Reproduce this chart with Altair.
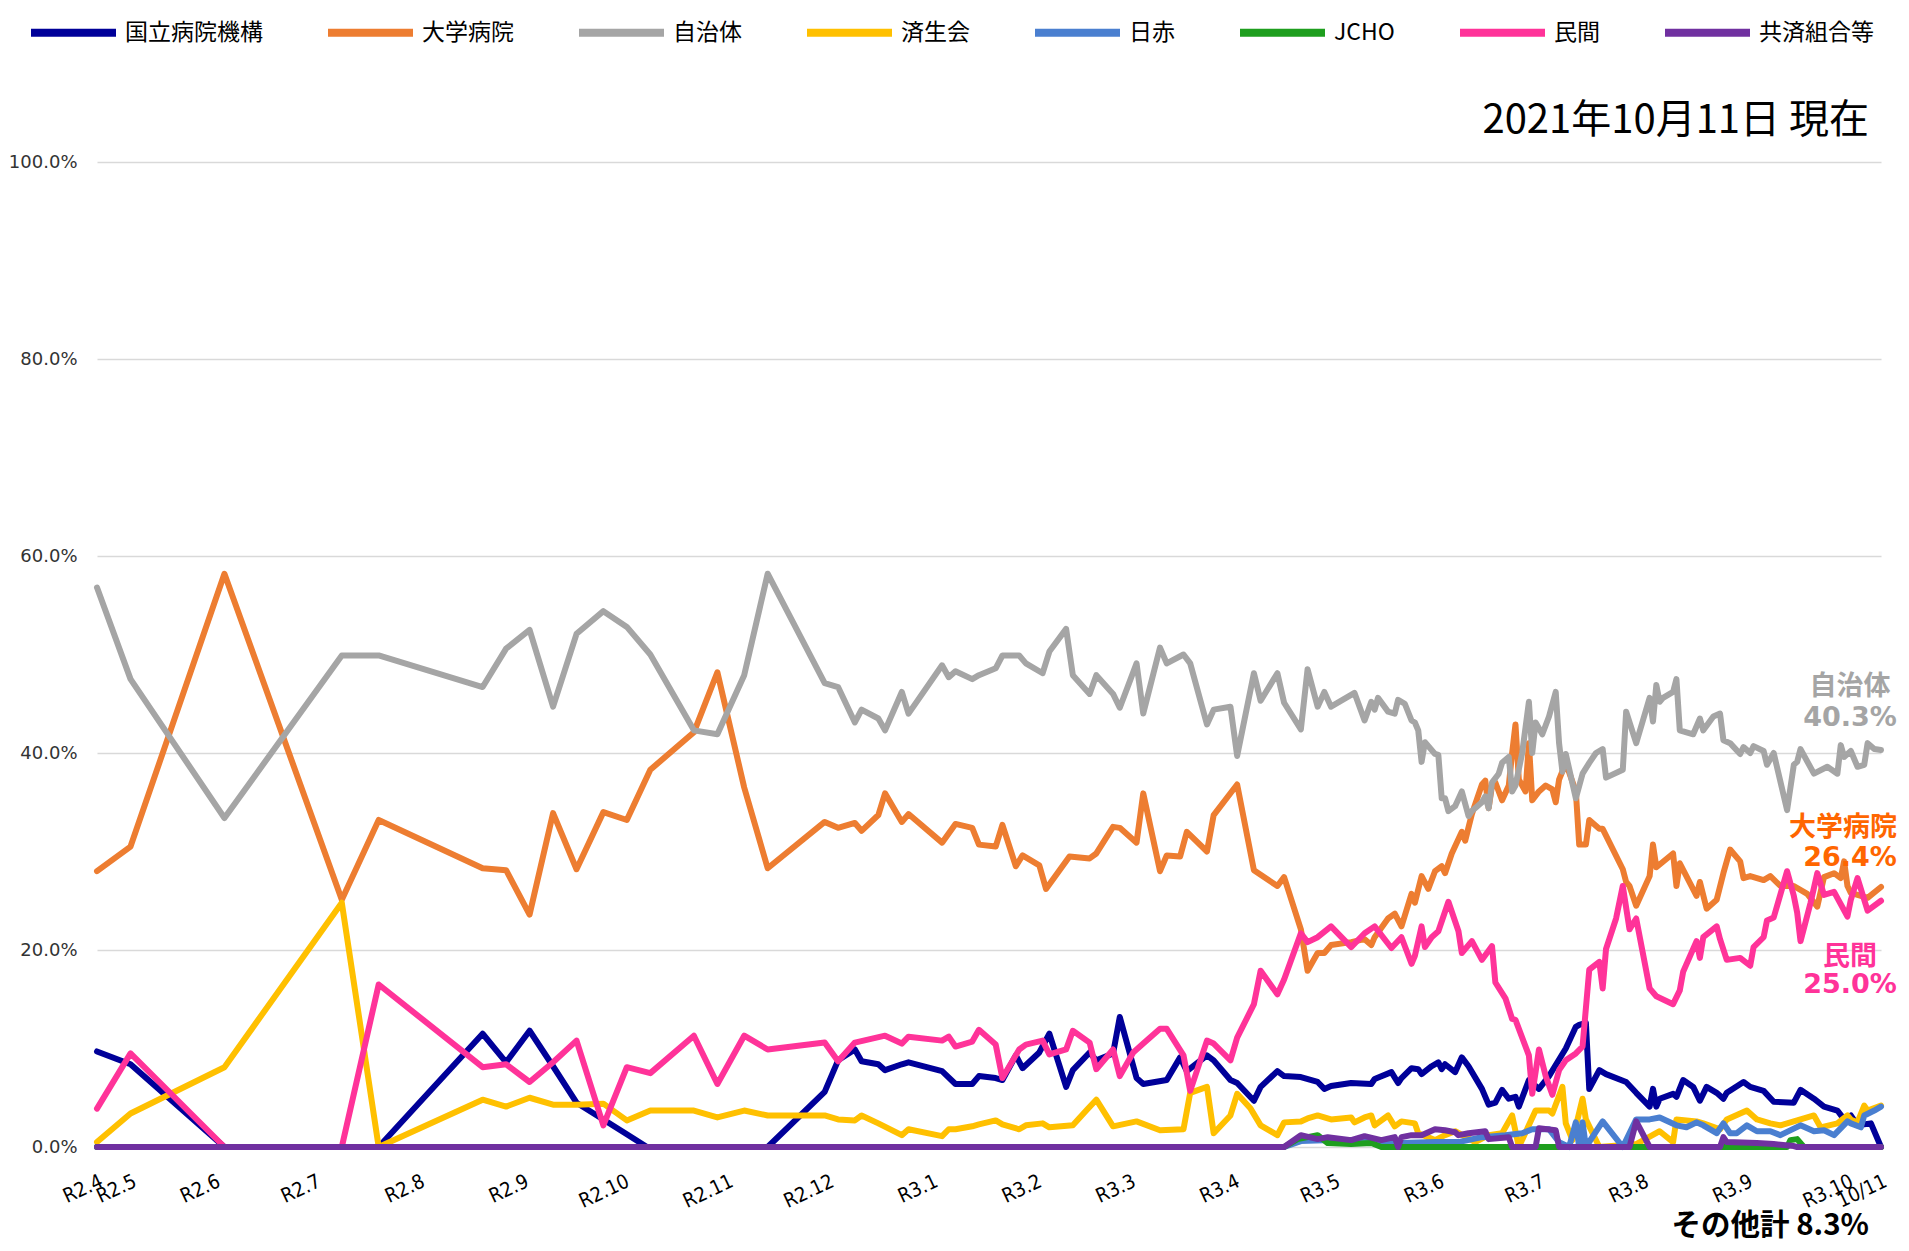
import altair as alt
import pandas as pd

# ---------------- data ----------------
series_names = ["国立病院機構", "大学病院", "自治体", "済生会", "日赤", "JCHO", "民間", "共済組合等"]
series_colors = ["#000099", "#ED7D31", "#A5A5A5", "#FFC000", "#4A7FD0", "#1E9E1E", "#FF3399", "#7030A0"]

# x values are days since 2020-04-27 (first data point), values are shares in %
kokuritsu_days = [0,10,38,84,115,122,129,136,143,151,158,164,200,217,221,226,228,233,235,240,242,252,256,261,263,268,270,274,276,281,284,289,291,296,298,303,305,310,312,319,323,325,331,333,338,340,345,347,352,354,359,364,366,368,374,380,381,386,388,389,392,394,395,398,400,401,402,405,407,409,413,415,417,419,421,423,424,427,430,433,438,441,442,444,445,448,450,456,459,463,464,465,466,470,471,473,476,478,480,483,485,486,491,493,497,500,506,508,512,515,519,521,523,525,529,532]
kokuritsu_pct = [9.7,8.4,0,0,11.5,8.6,11.8,8.2,4.5,2.8,1.3,0,0,5.6,8.8,9.9,8.7,8.4,7.8,8.4,8.6,7.7,6.4,6.4,7.2,7.0,6.8,9.3,8.0,9.6,11.5,6.1,7.8,9.6,8.8,9.5,13.2,7.0,6.4,6.8,9.1,7.7,9.3,8.8,6.8,6.5,4.7,6.1,7.7,7.2,7.1,6.6,5.9,6.2,6.5,6.4,6.9,7.6,6.5,7.0,8.0,7.9,7.4,8.2,8.6,7.9,8.4,7.6,9.1,8.2,5.9,4.3,4.5,5.8,4.9,5.1,4.1,6.8,5.9,7.2,10.0,12.2,12.4,12.6,5.9,7.8,7.4,6.6,5.5,4.1,5.9,4.1,4.9,5.4,5.1,6.8,6.1,4.7,6.1,5.5,4.9,5.5,6.6,6.1,5.7,4.6,4.5,5.8,4.9,4.1,3.7,2.8,3.2,2.2,2.4,0]

daigaku_days = [0,10,38,73,84,115,122,129,136,143,151,158,165,178,185,193,200,217,221,226,228,233,235,240,242,252,256,261,263,268,270,274,276,281,283,290,296,298,303,305,310,312,317,319,323,325,331,333,340,345,352,354,359,361,364,366,368,374,378,380,381,385,387,389,392,393,395,397,399,401,402,404,407,408,410,413,414,415,416,417,419,421,422,423,424,426,427,428,430,432,434,435,436,438,441,442,444,445,448,449,455,456,457,459,463,464,465,470,471,472,477,478,480,483,485,487,490,491,493,497,499,502,506,510,513,515,518,520,521,522,523,528,532]
daigaku_pct = [28.0,30.5,58.2,25.1,33.2,28.3,28.1,23.6,33.9,28.2,34.0,33.2,38.3,42.1,48.2,36.5,28.3,33.0,32.4,32.9,32.1,33.7,35.9,33.0,33.8,30.9,32.8,32.4,30.7,30.5,32.7,28.5,29.6,28.6,26.2,29.5,29.3,29.8,32.5,32.4,30.9,35.9,28.0,29.6,29.5,32.0,30.0,33.7,36.8,28.1,26.5,27.4,22.1,17.9,19.7,19.7,20.5,20.8,21.1,20.5,21.3,23.2,23.7,22.4,25.7,24.8,27.5,26.2,28.0,28.5,27.8,29.8,32.0,31.1,33.8,36.8,37.2,34.4,36.7,37.0,35.2,36.7,40.0,42.9,37.3,36.1,41.0,35.2,36.1,36.7,36.3,35.0,37.3,39.0,36.1,30.7,30.7,33.2,32.3,32.3,28.2,26.9,26.5,24.5,27.5,30.7,28.4,29.8,26.5,28.8,25.5,26.9,24.2,25.1,27.8,30.2,29.0,27.3,27.5,27.1,27.5,26.5,26.5,25.7,24.4,27.4,27.8,27.3,29.0,26.5,25.8,25.3,26.4]

jichitai_days = [0,10,38,73,84,115,122,129,136,143,151,158,165,178,185,193,200,217,221,226,228,233,235,240,242,252,254,256,261,263,268,270,275,277,282,284,289,291,296,298,303,305,310,312,317,319,324,326,331,333,338,340,345,347,352,354,359,361,364,366,368,375,378,380,381,382,385,387,388,390,392,393,394,395,396,399,400,401,402,403,405,407,409,410,413,414,415,416,418,419,421,422,423,425,427,428,429,431,433,435,436,437,438,441,443,445,447,449,450,455,456,459,461,463,464,465,466,467,470,471,472,476,478,479,482,484,485,487,490,491,493,494,497,498,500,504,506,507,508,512,516,519,520,521,523,525,527,528,530,532]
jichitai_pct = [56.8,47.5,33.4,49.9,49.9,46.7,50.6,52.5,44.7,52.1,54.4,52.8,50.0,42.3,41.9,47.9,58.2,47.1,46.7,43.1,44.4,43.5,42.3,46.2,44.0,48.9,47.7,48.3,47.5,47.9,48.6,49.9,49.9,49.1,48.1,50.3,52.6,47.9,46.0,47.9,46.0,44.6,49.1,44.0,50.7,49.1,50.0,49.1,42.9,44.4,44.7,39.7,48.1,45.3,48.1,45.1,42.4,48.5,44.7,46.2,44.7,46.1,43.3,45.2,44.4,45.6,44.2,44.0,45.4,45.0,43.3,43.1,42.3,39.1,41.1,39.9,39.8,35.4,35.4,34.1,34.6,36.1,33.6,34.1,35.0,35.6,34.4,37.0,37.9,39.0,39.6,36.1,36.7,40.0,45.2,40.0,43.1,41.9,43.7,46.2,41.0,38.1,39.9,35.4,37.9,39.0,40.0,40.4,37.5,38.3,44.2,41.0,43.3,45.6,43.2,46.9,45.2,45.6,46.2,47.5,42.3,41.9,43.5,42.3,43.7,44.0,41.3,41.0,39.9,40.6,40.0,40.7,40.2,38.8,40.0,34.2,38.8,39.1,40.4,37.9,38.6,37.9,40.8,39.6,40.2,38.6,38.8,41.0,40.4,40.3]

saiseikai_days = [0,10,38,73,84,115,122,129,136,143,151,158,165,178,185,193,200,217,221,226,228,233,240,242,252,254,256,261,263,268,270,275,277,282,284,291,295,298,303,310,317,324,326,331,333,338,340,344,347,352,354,359,361,364,368,374,375,378,380,381,385,387,389,393,394,399,402,405,411,415,419,422,424,429,433,434,437,438,440,443,444,448,459,466,470,471,477,479,484,486,492,495,499,502,506,512,514,519,522,523,525,527,528,532]
saiseikai_pct = [0.5,3.4,8.1,24.8,0,4.8,4.1,5.0,4.3,4.3,4.4,2.7,3.7,3.7,3.0,3.7,3.2,3.2,2.8,2.7,3.2,2.4,1.2,1.8,1.1,1.8,1.8,2.1,2.3,2.7,2.3,1.8,2.2,2.4,2.0,2.2,3.7,4.8,2.1,2.6,1.7,1.8,5.5,6.1,1.4,3.2,5.4,3.9,2.2,1.2,2.5,2.6,2.9,3.2,2.8,3.0,2.5,3.0,3.2,2.2,3.2,2.1,2.6,2.4,1.4,0.7,1.2,1.6,0.5,1.2,1.4,3.2,0,3.7,3.7,3.4,6.1,2.4,0.7,4.9,2.8,0,0.3,1.6,0.5,2.8,2.6,2.4,1.8,2.8,3.7,2.8,2.4,2.2,2.6,3.2,2.0,2.4,3.2,2.8,2.5,4.2,3.7,4.2]

nisseki_days = [0,354,359,368,375,383,389,399,406,413,420,425,428,433,436,439,441,442,443,444,449,455,459,463,466,471,474,477,479,483,485,487,489,492,495,499,502,508,512,515,518,522,523,526,527,530,532]
nisseki_pct = [0,0,0.6,0.7,0.7,0.3,0.4,0.5,0.5,1.0,1.2,1.4,1.8,1.8,0.5,0,2.5,0,2.5,0,2.6,0,2.8,2.8,3.0,2.2,2.0,2.5,2.2,1.4,2.4,1.4,1.4,2.2,1.6,1.6,1.2,2.2,1.6,1.7,1.2,2.6,2.4,2.0,3.2,3.7,4.1]

jcho_days = [0,354,358,364,367,374,380,383,504,505,507,509,532]
jcho_pct = [0,0,0.8,1.2,0.4,0.3,0.4,0,0,0.7,0.8,0,0]

minkan_days = [0,10,38,73,84,115,122,129,136,143,151,158,165,178,185,193,200,217,221,226,235,240,242,252,254,256,261,263,268,270,275,277,282,284,289,291,296,298,303,305,309,312,317,319,324,326,331,333,338,340,345,347,352,354,359,361,364,368,374,378,381,386,389,392,393,395,396,398,400,403,406,407,410,413,416,417,420,422,423,427,428,429,430,432,434,436,438,441,443,445,448,449,450,453,455,457,459,463,465,470,472,473,477,478,479,483,484,486,490,493,494,497,498,500,504,506,507,508,511,513,515,518,522,523,525,528,532]
minkan_pct = [3.9,9.5,0,0,16.5,8.1,8.4,6.6,8.6,10.8,2.2,8.1,7.5,11.3,6.4,11.3,9.9,10.6,8.7,10.6,11.3,10.5,11.2,10.8,11.2,10.2,10.7,11.9,10.4,7.0,9.9,10.4,10.8,9.4,9.9,11.8,10.6,7.9,9.9,7.2,9.6,10.5,12.0,12.0,9.3,5.7,10.8,10.5,8.8,11.1,14.5,17.9,15.5,17.0,21.7,20.8,21.3,22.4,20.3,21.7,22.4,20.2,21.3,18.6,19.4,22.4,20.3,21.3,21.9,24.9,21.9,19.7,20.9,19.0,20.4,16.7,15.1,13.0,12.9,9.3,5.4,7.6,9.9,7.2,5.3,7.8,8.8,9.5,10.2,18.0,18.8,16.1,20.1,23.2,26.5,22.1,23.2,16.1,15.3,14.5,15.9,17.8,20.9,19.2,21.3,22.4,21.1,19.0,19.2,18.4,20.3,21.3,23.0,23.3,28.0,25.5,23.8,20.9,24.8,27.8,25.6,25.9,23.4,25.1,27.3,24.0,25.0]

kyosai_days = [0,354,359,364,367,374,378,383,387,388,389,392,395,399,402,405,406,409,414,415,421,422,429,430,435,436,457,459,463,484,485,486,495,500,506,507,532]
kyosai_pct = [0,0,1.2,0.8,1.0,0.7,1.1,0.7,1.0,0,1.0,1.2,1.2,1.8,1.7,1.5,1.2,1.4,1.6,0.8,1.0,0,0,1.9,1.7,0,0,2.6,0,0,1.0,0.5,0.4,0.3,0.1,0,0]

tick_dates = ["2020-04-27", "2020-05-07", "2020-06-01", "2020-07-01", "2020-08-01", "2020-09-01",
              "2020-10-01", "2020-11-01", "2020-12-01", "2021-01-01", "2021-02-01", "2021-03-01",
              "2021-04-01", "2021-05-01", "2021-06-01", "2021-07-01", "2021-08-01", "2021-09-01",
              "2021-10-01", "2021-10-11"]
tick_labels = ["R2.4", "R2.5", "R2.6", "R2.7", "R2.8", "R2.9", "R2.10", "R2.11", "R2.12", "R3.1",
               "R3.2", "R3.3", "R3.4", "R3.5", "R3.6", "R3.7", "R3.8", "R3.9", "R3.10", "10/11"]

y_ticks = [0, 0.2, 0.4, 0.6, 0.8, 1.0]

title_text = "2021年10月11日 現在"
note_texts = ["自治体", "40.3%", "大学病院", "26.4%", "民間", "25.0%"]
note_colors = ["#A5A5A5", "#A5A5A5", "#FF6600", "#FF6600", "#FF3399", "#FF3399"]
other_text = "その他計 8.3%"

# ---------------- build ----------------
origin = pd.Timestamp("2020-04-27")
tick_days = [int((pd.Timestamp(d) - origin).days) for d in tick_dates]
last_day = tick_days[-1]

series_days = [kokuritsu_days, daigaku_days, jichitai_days, saiseikai_days,
               nisseki_days, jcho_days, minkan_days, kyosai_days]
series_pcts = [kokuritsu_pct, daigaku_pct, jichitai_pct, saiseikai_pct,
               nisseki_pct, jcho_pct, minkan_pct, kyosai_pct]

rows = []
for name, days, pcts in zip(series_names, series_days, series_pcts):
    assert len(days) == len(pcts), (name, len(days), len(pcts))
    for d, p in zip(days, pcts):
        rows.append({"series": name, "day": d, "share": p / 100.0})
df = pd.DataFrame(rows)

label_expr = "".join(f"datum.value == {d} ? '{lab}' : " for d, lab in zip(tick_days, tick_labels)) + "''"

PLOT_W, PLOT_H = 1784, 985

color_enc = alt.Color(
    "series:N",
    scale=alt.Scale(domain=series_names, range=series_colors),
    legend=alt.Legend(
        title=None, orient="none", legendX=-70, legendY=-176,
        direction="horizontal", columns=8, symbolType="stroke",
        symbolSize=7225, symbolStrokeWidth=8, labelFont="Noto Sans CJK JP",
        labelFontSize=23, labelColor="#000000", labelOffset=5,
        columnPadding=49, padding=0, labelLimit=400,
    ),
)

x_enc = alt.X(
    "day:Q",
    scale=alt.Scale(domain=[0, last_day], nice=False, zero=False),
    axis=alt.Axis(
        values=tick_days, labelExpr=label_expr, labelAngle=335,
        labelAlign="right", labelBaseline="top", labelPadding=24,
        labelFont="Liberation Sans Narrow, DejaVu Sans Condensed, Liberation Sans",
        labelFontSize=20, labelColor="#000000", labelOverlap=False,
        labelFlush=False, ticks=False, tickSize=0, domain=False, grid=False,
        title=None,
    ),
)

y_enc = alt.Y(
    "share:Q",
    scale=alt.Scale(domain=[0, 1], nice=False, zero=True),
    axis=alt.Axis(
        values=y_ticks, format=".1%", labelFont="DejaVu Sans", labelFontSize=18,
        labelColor="#333333", labelPadding=20, grid=True, gridColor="#D9D9D9",
        gridWidth=1.3, domain=False, ticks=False, tickSize=0, title=None,
    ),
)

base = alt.Chart(df)
line_layers = [
    base.transform_filter(alt.datum.series == name)
    .mark_line(strokeWidth=6, strokeJoin="round", strokeCap="round")
    .encode(x=x_enc, y=y_enc, color=color_enc)
    for name in series_names
]


def text_layer(text, x, y, color, size, weight, align, font):
    return (
        alt.Chart(pd.DataFrame({"t": [text]}))
        .mark_text(align=align, baseline="middle", font=font, fontSize=size,
                   fontWeight=weight, color=color)
        .encode(x=alt.value(x), y=alt.value(y), text="t:N")
    )


note_font = "DejaVu Sans, Noto Sans CJK JP"
note_x = [1753, 1753, 1746, 1753, 1753, 1753]
note_y = [525, 556, 666, 696, 795, 823]
text_layers = [text_layer(title_text, 1772, -41, "#000000", 40, "normal", "right", "Noto Sans CJK JP")]
for t, c, xx, yy in zip(note_texts, note_colors, note_x, note_y):
    text_layers.append(text_layer(t, xx, yy, c, 27, "bold", "center", note_font))
text_layers.append(text_layer(other_text, 1772, 1064, "#000000", 29.5, "bold", "right", "Noto Sans CJK JP"))

chart = (
    alt.layer(*line_layers, *text_layers)
    .properties(
        width=PLOT_W, height=PLOT_H,
        padding={"left": 89, "top": 154, "right": 20, "bottom": 96},
        autosize=alt.AutoSizeParams(type="none"),
        background="#FFFFFF",
    )
    .configure_view(stroke=None)
)

chart.save("out.html", embed_options={"renderer": "svg", "actions": False})
